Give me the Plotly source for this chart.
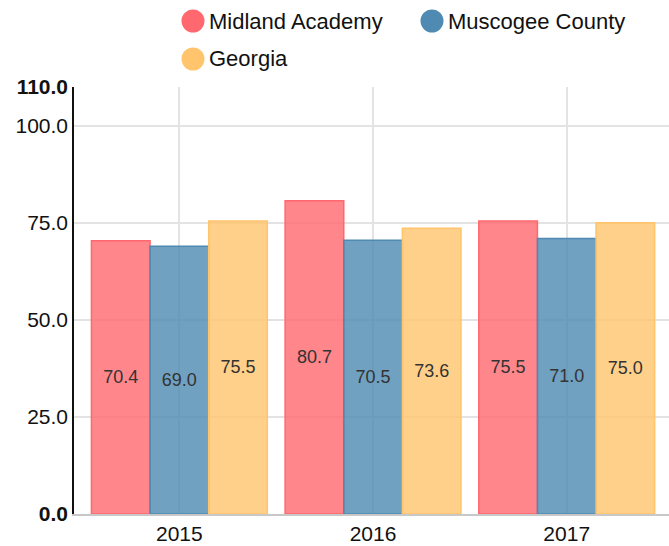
import plotly.graph_objects as go

years = ["2015", "2016", "2017"]
series_names = ["Midland Academy", "Muscogee County", "Georgia"]
midland = [70.4, 80.7, 75.5]
muscogee = [69.0, 70.5, 71.0]
georgia = [75.5, 73.6, 75.0]
y_tick_vals = [0, 25, 50, 75, 100, 110]
y_tick_text = ["<b>0.0</b>", "25.0", "50.0", "75.0", "100.0", "<b>110.0</b>"]

base_colors = [(255, 104, 110), (78, 138, 178), (255, 196, 108)]
series_values = [midland, muscogee, georgia]

W, H = 669, 546
ML, MR, MT, MB = 74, 0, 87, 32
PW, PH = W - ML - MR, H - MT - MB

fig = go.Figure()
for name, vals, (r, g, b) in zip(series_names, series_values, base_colors):
    fig.add_trace(go.Bar(
        x=years, y=vals, name=name,
        text=[f"{v:.1f}" for v in vals],
        textposition="inside", insidetextanchor="middle",
        textfont=dict(color="#333333", size=18),
        marker=dict(color=f"rgba({r},{g},{b},0.8)",
                    line=dict(color=f"rgb({r},{g},{b})", width=1.5)),
        showlegend=False,
        cliponaxis=False,
    ))

# custom legend (circles + labels); positions given in window pixels
def px2paper(px, py):
    return (px - ML) / PW, (H - MB - py) / PH

legend_pos = [(193, 21, 207), (432, 21, 446), (193, 59, 207)]
for name, (cx, cy, tx), (r, g, b) in zip(series_names, legend_pos, base_colors):
    xa, ya = px2paper(cx, cy)
    fig.add_shape(type="circle", xref="paper", yref="paper",
                  xsizemode="pixel", ysizemode="pixel",
                  xanchor=xa, yanchor=ya, x0=-11.5, x1=11.5, y0=-11.5, y1=11.5,
                  fillcolor=f"rgb({r},{g},{b})", line=dict(width=0))
    txa, _ = px2paper(tx, cy)
    fig.add_annotation(x=txa, y=ya, xref="paper", yref="paper",
                       text=name, showarrow=False, xanchor="left", yanchor="middle",
                       font=dict(size=22, color="#111111"))

fig.update_layout(
    width=W, height=H,
    margin=dict(l=ML, r=MR, t=MT, b=MB, pad=0),
    paper_bgcolor="white", plot_bgcolor="white",
    barmode="group", bargap=0.092, bargroupgap=0,
    font=dict(family="Liberation Sans, Arial, sans-serif", size=21, color="#111111"),
    showlegend=False,
)
fig.update_xaxes(
    type="category", range=[-0.544, 2.528],
    showgrid=True, gridcolor="#e3e3e3", gridwidth=1.5,
    showline=True, linecolor="#c8c8c8", linewidth=1.5,
    ticks="", tickfont=dict(size=21, color="#111111"),
)
fig.update_yaxes(
    range=[0, 110], tickvals=y_tick_vals, ticktext=y_tick_text,
    showgrid=True, gridcolor="#e3e3e3", gridwidth=1.5,
    zeroline=False,
    showline=True, linecolor="#111111", linewidth=1.5,
    ticks="", tickfont=dict(size=21, color="#111111"),
)

fig.write_html(
    "out.html",
    config={"displayModeBar": False},
    post_script="document.body.style.margin='0';document.body.style.overflow='hidden';",
)
